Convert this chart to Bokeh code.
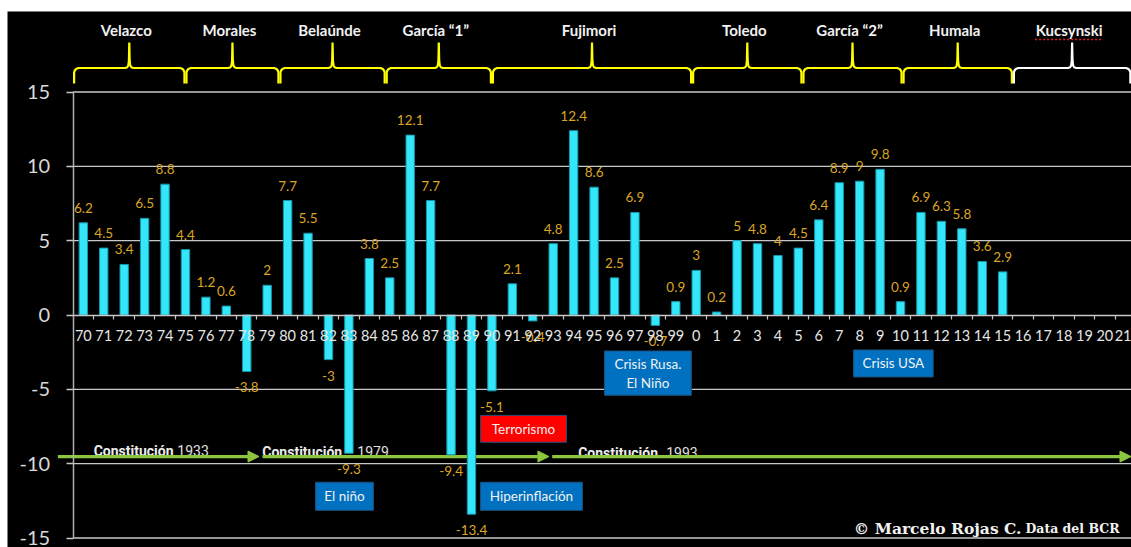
import numpy as np
from bokeh.plotting import figure
from bokeh.models import Range1d, LinearAxis, FixedTicker, Arrow, NormalHead
from bokeh.core.properties import value
from bokeh.embed import file_html
from bokeh.resources import INLINE

# ---------------- data ----------------
years = ["70", "71", "72", "73", "74", "75", "76", "77", "78", "79",
         "80", "81", "82", "83", "84", "85", "86", "87", "88", "89",
         "90", "91", "92", "93", "94", "95", "96", "97", "98", "99",
         "0", "1", "2", "3", "4", "5", "6", "7", "8", "9",
         "10", "11", "12", "13", "14", "15", "16", "17", "18", "19", "20", "21"]
growth = [6.2, 4.5, 3.4, 6.5, 8.8, 4.4, 1.2, 0.6, -3.8, 2.0,
          7.7, 5.5, -3.0, -9.3, 3.8, 2.5, 12.1, 7.7, -9.4, -13.4,
          -5.1, 2.1, -0.4, 4.8, 12.4, 8.6, 2.5, 6.9, -0.7, 0.9,
          3.0, 0.2, 5.0, 4.8, 4.0, 4.5, 6.4, 8.9, 9.0, 9.8,
          0.9, 6.9, 6.3, 5.8, 3.6, 2.9]
presidents = ["Velazco", "Morales", "Belaúnde", "García “1”", "Fujimori",
              "Toledo", "García “2”", "Humala", "Kucsynski"]
term_edges = [-0.5, 5.0, 9.6, 14.8, 20.0, 29.8, 35.2, 40.1, 45.5, 51.3]
y_ticks = [-15, -10, -5, 0, 5, 10, 15]
y_tick_labels = ["-15", "-10", "-5", "0", "5", "10", "15"]

# annotation boxes (data units)
box_text = ["Terrorismo", "Hiperinflación", "El niño", "Crisis Rusa.\nEl Niño", "Crisis USA"]
box_left = [19.44, 19.44, 11.37, 25.51, 37.70]
box_right = [23.65, 24.43, 14.20, 29.76, 41.60]
box_top = [-6.75, -11.25, -11.25, -2.42, -2.35]
box_bottom = [-8.56, -13.14, -13.14, -5.40, -4.17]
box_fill = ["#FF0000", "#0070C0", "#0070C0", "#0070C0", "#0070C0"]

# constitution arrows
const_bold = ["Constitución", "Constitución", "Constitución"]
const_year = ["1933", "1979", "1993"]
const_bold_end = [4.415, 12.67, 28.13]
const_year_start = [4.60, 13.41, 28.53]
const_base = [-9.14, -9.20, -9.27]
arrow_start = [-1.243, 8.77, 22.95]
arrow_end = [8.60, 22.79, 51.28]
arrow_y = -9.52

# ---------------- geometry ----------------
PXX = 20.43    # px per category
PXY = 14.867   # px per unit of y
BR_BAR = 16.614
BR_TAIL = 15.572
BR_LABEL_Y = 19.17
GREEN = "#8CC63E"

p = figure(width=1131, height=547,
           x_range=Range1d(-3.711, 51.306), y_range=Range1d(-15.639, 20.415),
           output_backend="svg", toolbar_location=None,
           x_axis_type=None, y_axis_type=None,
           background_fill_color="black", border_fill_color="white",
           min_border=0, min_border_top=11, min_border_left=7,
           outline_line_color=None)

# grid lines
grid_vals = [t for t in y_ticks if t != 0]
p.segment(x0=[-0.5] * len(grid_vals), x1=[51.306] * len(grid_vals),
          y0=grid_vals, y1=grid_vals, line_color="#c8c8c8", line_width=1.3)

# axes
xaxis = LinearAxis(fixed_location=0, bounds=(-0.5, 51.306),
                   ticker=FixedTicker(ticks=list(range(len(years))),
                                      minor_ticks=[i + 0.5 for i in range(len(years))]),
                   major_label_overrides={i: s for i, s in enumerate(years)},
                   major_tick_in=0, major_tick_out=0,
                   minor_tick_in=0, minor_tick_out=4,
                   axis_line_color="#c8c8c8", axis_line_width=1.5,
                   minor_tick_line_color="#c8c8c8", minor_tick_line_width=1.2,
                   major_label_text_color="#e6e6e6",
                   major_label_text_font="Lato",
                   major_label_text_font_size="14.5px",
                   major_label_standoff=11)
p.add_layout(xaxis, "below")

yaxis = LinearAxis(fixed_location=-0.5, bounds=(-15, 15),
                   ticker=FixedTicker(ticks=y_ticks, minor_ticks=[]),
                   major_label_overrides=dict(zip(y_ticks, y_tick_labels)),
                   major_tick_in=0, major_tick_out=7,
                   minor_tick_in=0, minor_tick_out=0,
                   axis_line_color="#b0b0b0", axis_line_width=1.5,
                   major_tick_line_color="#c8c8c8", major_tick_line_width=1.3,
                   major_label_text_color="#d9d9d9",
                   major_label_text_font="Lato",
                   major_label_text_font_size="20px",
                   major_label_standoff=16)
p.add_layout(yaxis, "left")

# arrows (under the bars)
for xs, xe in zip(arrow_start, arrow_end):
    p.add_layout(Arrow(end=NormalHead(size=11, fill_color=GREEN, line_color=GREEN),
                       x_start=xs, y_start=arrow_y, x_end=xe, y_end=arrow_y,
                       line_color=GREEN, line_width=3.2, level="underlay"))

# braces
def brace(x0, x1):
    kx, ky = 1.0 / PXX, 1.0 / PXY
    r = 5.0
    xm = 0.5 * (x0 + x1)
    xs, ys = [x0], [BR_TAIL]
    for a in np.linspace(np.pi, np.pi / 2, 7):
        xs.append(x0 + r * kx * (1 + np.cos(a)))
        ys.append(BR_BAR - r * ky * (1 - np.sin(a)))
    for dx, dy in [(-4, 0), (-2, 0.8), (-1, 2.5), (-0.4, 7), (0, 25.5),
                   (0.4, 7), (1, 2.5), (2, 0.8), (4, 0)]:
        xs.append(xm + dx * kx)
        ys.append(BR_BAR + dy * ky)
    for a in np.linspace(np.pi / 2, 0, 7):
        xs.append(x1 - r * kx * (1 - np.cos(a)))
        ys.append(BR_BAR - r * ky * (1 - np.sin(a)))
    xs.append(x1)
    ys.append(BR_TAIL)
    return xs, ys

b_xs, b_ys, b_col, mids = [], [], [], []
for i in range(len(presidents)):
    x0, x1 = term_edges[i] + 0.05, term_edges[i + 1] - 0.05
    bx, by = brace(x0, x1)
    b_xs.append(bx)
    b_ys.append(by)
    b_col.append("#FFFF00" if i < len(presidents) - 1 else "#FFFFFF")
    mids.append(0.5 * (x0 + x1))
p.multi_line(xs=b_xs, ys=b_ys, line_color=b_col, line_width=2.2)
p.text(x=[m - 3 / PXX for m in mids], y=[BR_LABEL_Y] * len(mids), text=presidents,
       text_align="center", text_baseline="middle", text_color="#f2f2f2",
       text_font=value("Lato"), text_font_style="bold", text_font_size="15px")
# spell-check squiggle under last name
kx_last = mids[-1] - 3 / PXX
p.line(x=[kx_last - 34 / PXX, kx_last + 34 / PXX], y=[BR_LABEL_Y - 9.5 / PXY] * 2,
       line_color="#E02020", line_width=1.5, line_dash="2 2")

# bars
xi = list(range(len(growth)))
p.vbar(x=xi, top=growth, bottom=0, width=0.41,
       fill_color="#33E6FA", line_color="#1596AA", line_width=1)

# value labels
lbl = [f"{v:g}" for v in growth]
pos_x = [x for x, v in zip(xi, growth) if v >= 0]
pos_y = [v for v in growth if v >= 0]
pos_t = [t for t, v in zip(lbl, growth) if v >= 0]
neg_x = [x for x, v in zip(xi, growth) if v < 0]
neg_y = [v for v in growth if v < 0]
neg_t = [t for t, v in zip(lbl, growth) if v < 0]
common = dict(text_align="center", text_baseline="alphabetic", text_color="#DCA423",
              text_font=value("Lato"), text_font_size="13.5px")
p.text(x=pos_x, y=pos_y, text=pos_t, y_offset=-15, **common)
p.text(x=neg_x, y=neg_y, text=neg_t, y_offset=16, **common)

# annotation boxes
p.quad(left=box_left, right=box_right, top=box_top, bottom=box_bottom,
       fill_color=box_fill, line_color="#1F4E79", line_width=1)
p.text(x=[(a + b) / 2 for a, b in zip(box_left, box_right)],
       y=[(a + b) / 2 for a, b in zip(box_top, box_bottom)], text=box_text,
       text_align="center", text_baseline="middle", text_color="#f2f2f2",
       text_font=value("Lato"), text_font_size="13.5px", text_line_height=1.2)

# constitution labels
p.text(x=const_bold_end, y=const_base, text=const_bold, text_align="right",
       text_baseline="alphabetic", text_color="#ececec",
       text_font=value("Roboto"), text_font_style="bold",
       text_font_size="14px", level="underlay")
p.text(x=const_year_start, y=const_base, text=const_year, text_align="left",
       text_baseline="alphabetic", text_color="#e0e0e0",
       text_font=value("Roboto"), text_font_size="14px", level="underlay")

# credit
p.text(x=[45.92], y=[-14.35], text=["© Marcelo Rojas C."], text_align="right",
       text_baseline="alphabetic", text_color="#f2f2f2",
       text_font=value("DejaVu Serif"), text_font_style="bold", text_font_size="15.5px")
p.text(x=[50.72], y=[-14.35], text=["Data del BCR"], text_align="right",
       text_baseline="alphabetic", text_color="#f2f2f2",
       text_font=value("DejaVu Serif"), text_font_style="bold", text_font_size="12.5px")

open("out.html", "w").write(file_html(p, INLINE))
